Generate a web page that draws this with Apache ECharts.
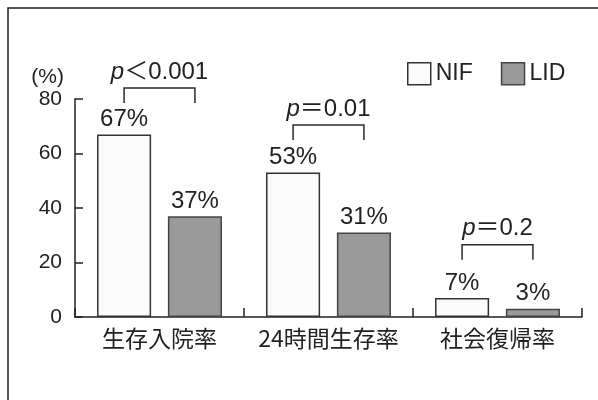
<!DOCTYPE html>
<html>
<head>
<meta charset="utf-8">
<script src="https://cdn.jsdelivr.net/npm/echarts@6/dist/echarts.min.js"></script>
<style>
  html, body { margin: 0; padding: 0; background: #fff; }
  #chart { width: 598px; height: 400px; }
</style>
</head>
<body>
<div id="chart"></div>
<script>
// Outcome rates by group
const categories = ['生存入院率', '24時間生存率', '社会復帰率'];
const nifValues = [67, 53, 7];
const lidValues = [37, 31, 3];
// Significance annotations: text after the italic "p" and the bracket height (%)
const pTexts = ['＜0.001', '＝0.01', '＝0.2'];
const bracketLevels = [84, 70.5, 26.5];
const yTickValues = [0, 20, 40, 60, 80];

const LATIN = '"Liberation Sans", Arial, "Noto Sans CJK JP", sans-serif';
const CJK = '"Noto Sans CJK JP", "Liberation Sans", sans-serif';
const INK = '#222';
const BAR_W = 0.32;   // bar width as fraction of the category band
const BAR_GAP = 0.31; // gap between the two bars, fraction of bar width

const chart = echarts.init(document.getElementById('chart'), null, { renderer: 'canvas' });

const bracketData = bracketLevels.map((v, i) => [i, v]);

chart.setOption({
  backgroundColor: '#fff',
  animation: false,
  graphic: [{
    type: 'polyline',
    shape: { points: [[8, 420], [8, 8], [620, 8]] },
    style: { stroke: '#1e1e1e', lineWidth: 1.5, fill: null }
  }],
  legend: {
    left: 407,
    top: 62,
    padding: 0,
    itemWidth: 23,
    itemHeight: 22,
    itemGap: 28,
    icon: 'rect',
    textStyle: { fontSize: 23, fontFamily: LATIN, color: INK },
    data: [
      { name: 'NIF', itemStyle: { color: '#fbfbfb', borderColor: '#333', borderWidth: 1.5 } },
      { name: 'LID', itemStyle: { color: '#9a9a9a', borderColor: '#444', borderWidth: 1.5 } }
    ]
  },
  grid: { left: 75, right: 16, top: 99, bottom: 83 },
  xAxis: {
    type: 'category',
    data: categories,
    axisLine: { show: true, lineStyle: { color: INK, width: 1.5 } },
    axisTick: { show: true, interval: 0, inside: true, length: 9, lineStyle: { color: INK, width: 1.5 } },
    axisLabel: { interval: 0, fontSize: 23, fontFamily: CJK, color: INK, margin: 10 }
  },
  yAxis: {
    type: 'value',
    min: yTickValues[0],
    max: yTickValues[yTickValues.length - 1],
    interval: yTickValues[1] - yTickValues[0],
    name: '(%)',
    nameLocation: 'end',
    nameGap: 11,
    nameTextStyle: {
      fontSize: 21, fontFamily: LATIN, color: INK,
      align: 'right', verticalAlign: 'bottom', padding: [0, 11, 0, 0]
    },
    axisLine: { show: true, lineStyle: { color: INK, width: 1.5 } },
    axisTick: { show: true, inside: true, length: 8, lineStyle: { color: INK, width: 1.5 } },
    splitLine: { show: false },
    axisLabel: { fontSize: 21, fontFamily: LATIN, color: INK, margin: 13 }
  },
  series: [
    {
      name: 'NIF',
      type: 'bar',
      data: nifValues,
      barWidth: (BAR_W * 100) + '%',
      barGap: (BAR_GAP * 100) + '%',
      itemStyle: { color: '#fbfbfb', borderColor: '#333', borderWidth: 1.5 },
      label: {
        show: true, position: 'top', distance: 3, formatter: '{c}%',
        fontSize: 24, fontFamily: LATIN, color: INK
      }
    },
    {
      name: 'LID',
      type: 'bar',
      data: lidValues,
      barWidth: (BAR_W * 100) + '%',
      barGap: (BAR_GAP * 100) + '%',
      itemStyle: { color: '#9a9a9a', borderColor: '#444', borderWidth: 1.5 },
      label: {
        show: true, position: 'top', distance: 3, formatter: '{c}%',
        fontSize: 24, fontFamily: LATIN, color: INK
      }
    },
    {
      name: 'significance',
      type: 'custom',
      data: bracketData,
      z: 5,
      renderItem: function (params, api) {
        const pt = api.coord([api.value(0), api.value(1)]);
        const cx = pt[0], y = pt[1];
        const band = api.size([1, 0])[0];
        const off = band * BAR_W * (1 + BAR_GAP) / 2;
        const drop = 15;
        return {
          type: 'group',
          children: [
            {
              type: 'polyline',
              shape: { points: [[cx - off, y + drop], [cx - off, y], [cx + off, y], [cx + off, y + drop]] },
              style: { stroke: '#2a2a2a', lineWidth: 1.5, fill: null }
            },
            {
              type: 'text',
              x: cx,
              y: y - 4,
              style: {
                text: '{i|p}{n|' + pTexts[params.dataIndex] + '}',
                rich: {
                  i: { fontStyle: 'italic', fontSize: 24, fontFamily: LATIN, fill: INK },
                  n: { fontSize: 24, fontFamily: LATIN, fill: INK }
                },
                fontSize: 24,
                fontFamily: LATIN,
                fill: INK,
                align: 'center',
                verticalAlign: 'bottom'
              }
            }
          ]
        };
      }
    }
  ]
});
</script>
</body>
</html>
